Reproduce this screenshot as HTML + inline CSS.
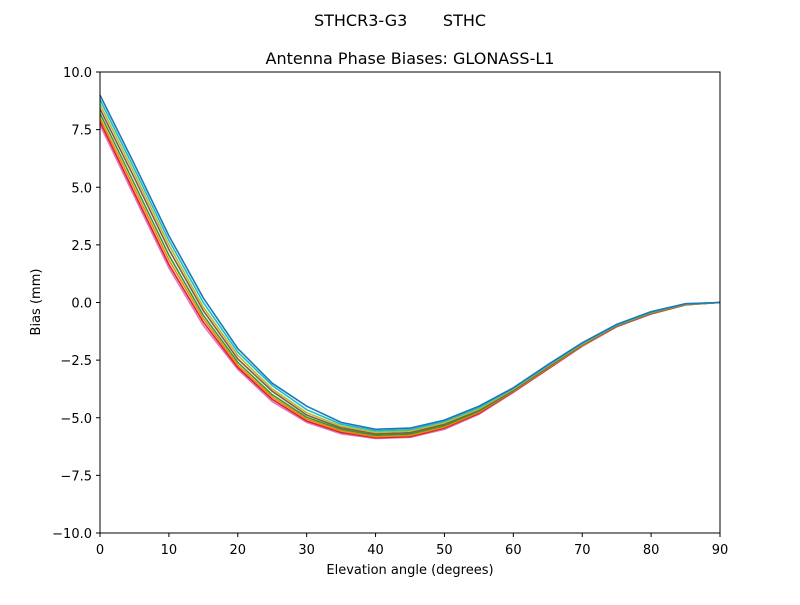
<!DOCTYPE html>
<html><head><meta charset="utf-8">
<style>
body{margin:0;background:#fff;font-family:"Liberation Sans","DejaVu Sans",sans-serif;}
svg text{font-family:"DejaVu Sans","Liberation Sans",sans-serif;white-space:pre;}
</style></head>
<body>
<svg id="chart" width="800" height="600" xmlns="http://www.w3.org/2000/svg" xml:space="preserve">
<rect width="800" height="600" fill="#fff"/>
<text x="400" y="26" font-size="16" text-anchor="middle">STHCR3-G3       STHC</text>
<text x="410" y="64" font-size="16" text-anchor="middle">Antenna Phase Biases: GLONASS-L1</text>
<g id="lines"></g>
<rect x="100" y="72" width="620" height="461" fill="none" stroke="#000" stroke-width="1"/>
<g id="xticks"></g>
<g id="yticks"></g>
<text x="410" y="574" font-size="13" text-anchor="middle">Elevation angle (degrees)</text>
<text x="40" y="302" font-size="13" text-anchor="middle" transform="rotate(-90 40 302)">Bias (mm)</text>
</svg>
<script>
const elevations=[0,5,10,15,20,25,30,35,40,45,50,55,60,65,70,75,80,85,90];
const xTicks=[0,10,20,30,40,50,60,70,80,90];
const yTicks=[-10,-7.5,-5,-2.5,0,2.5,5,7.5,10];
const yTickLabels=["\u221210.0","\u22127.5","\u22125.0","\u22122.5","0.0","2.5","5.0","7.5","10.0"];
const s1=[9.0,6.0,2.9,0.2,-2.0,-3.5,-4.5,-5.2,-5.5,-5.45,-5.1,-4.5,-3.7,-2.7,-1.75,-0.95,-0.4,-0.05,0];
const s2=[8.8,5.8,2.7,0.0,-2.15,-3.6,-4.65,-5.28,-5.57,-5.52,-5.16,-4.56,-3.73,-2.73,-1.77,-0.97,-0.41,-0.06,0];
const s3=[8.6,5.6,2.5,-0.2,-2.3,-3.75,-4.78,-5.36,-5.64,-5.58,-5.22,-4.62,-3.76,-2.76,-1.8,-0.98,-0.43,-0.07,0];
const s4=[8.4,5.4,2.3,-0.35,-2.45,-3.85,-4.88,-5.43,-5.7,-5.65,-5.28,-4.66,-3.79,-2.79,-1.82,-1.0,-0.44,-0.07,0];
const s5=[8.2,5.15,2.05,-0.55,-2.6,-4.0,-4.98,-5.5,-5.76,-5.71,-5.34,-4.71,-3.82,-2.82,-1.84,-1.01,-0.46,-0.08,0];
const s6=[8.0,4.95,1.85,-0.7,-2.72,-4.1,-5.06,-5.57,-5.82,-5.77,-5.4,-4.76,-3.85,-2.85,-1.86,-1.02,-0.47,-0.09,0];
const s7=[7.85,4.75,1.65,-0.85,-2.82,-4.2,-5.14,-5.64,-5.87,-5.82,-5.45,-4.81,-3.88,-2.88,-1.88,-1.04,-0.49,-0.1,0];
const s8=[7.7,4.6,1.5,-1.0,-2.9,-4.3,-5.2,-5.7,-5.9,-5.85,-5.5,-4.85,-3.9,-2.9,-1.9,-1.05,-0.5,-0.1,0];
const series=[s8,s7,s6,s5,s4,s3,s2,s1];
const colors=["#e377c2","#d62728","#ff7f0e","#2ca02c","#8c564b","#bcbd22","#17becf","#1f77b4"];
const NS="http://www.w3.org/2000/svg";
const X0=100,X1=720,Y0=533,Y1=72;
function xs(v){return X0+(v-0)/90*(X1-X0);}
function ys(v){return Y0-(v+10)/20*(Y0-Y1);}
const lg=document.getElementById('lines');
series.forEach((s,i)=>{
  const p=document.createElementNS(NS,'polyline');
  
  
  p.setAttribute('points',s.map((v,j)=>xs(elevations[j]).toFixed(1)+','+ys(v).toFixed(1)).join(' '));
  p.setAttribute('fill','none');p.setAttribute('stroke',colors[i%colors.length]);p.setAttribute('stroke-width','1.6');
  lg.appendChild(p);
});
const xg=document.getElementById('xticks');
xTicks.forEach(t=>{
  const l=document.createElementNS(NS,'line');
  
  
  l.setAttribute('x1',xs(t));l.setAttribute('x2',xs(t));l.setAttribute('y1',533);l.setAttribute('y2',537);l.setAttribute('stroke','#000');
  xg.appendChild(l);
  const tx=document.createElementNS(NS,'text');
  
  
  tx.setAttribute('x',xs(t));tx.setAttribute('y',554);tx.setAttribute('font-size','13');tx.setAttribute('text-anchor','middle');
  tx.textContent=t;xg.appendChild(tx);
});
const yg=document.getElementById('yticks');
yTicks.forEach((t,i)=>{
  const l=document.createElementNS(NS,'line');
  
  
  l.setAttribute('x1',96);l.setAttribute('x2',100);l.setAttribute('y1',ys(t));l.setAttribute('y2',ys(t));l.setAttribute('stroke','#000');
  yg.appendChild(l);
  const tx=document.createElementNS(NS,'text');
  
  
  tx.setAttribute('x',92);tx.setAttribute('y',ys(t)+5);tx.setAttribute('font-size','13');tx.setAttribute('text-anchor','end');
  tx.textContent=yTickLabels[i];yg.appendChild(tx);
});
</script>
</body></html>
